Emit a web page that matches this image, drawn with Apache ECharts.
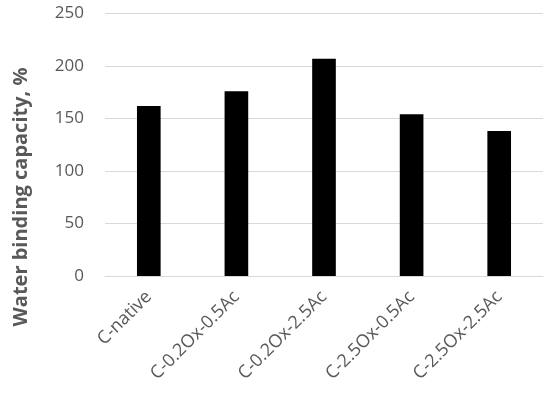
<!DOCTYPE html>
<html>
<head>
<meta charset="utf-8">
<script src="https://cdn.jsdelivr.net/npm/echarts@6/dist/echarts.min.js"></script>
<style>html,body{margin:0;padding:0;background:#fff;}#c{width:550px;height:394px;}</style>
</head>
<body>
<div id="c"></div>
<script>
const categories = ["C-native", "C-0.2Ox-0.5Ac", "C-0.2Ox-2.5Ac", "C-2.5Ox-0.5Ac", "C-2.5Ox-2.5Ac"];
const values = [162, 176, 207, 154, 138];
const yTicks = [0, 50, 100, 150, 200, 250];
const yTitle = "Water binding capacity, %";

const FONT = '"Open Sans", sans-serif';
const chart = echarts.init(document.getElementById('c'), null, {renderer: 'canvas'});
chart.setOption({
  animation: false,
  backgroundColor: '#ffffff',
  grid: {left: 105, right: 7, top: 13.5, bottom: 118, containLabel: false},
  xAxis: {
    type: 'category',
    data: categories,
    axisLine: {show: true, lineStyle: {color: '#d9d9d9', width: 1}},
    axisTick: {show: false},
    axisLabel: {rotate: 45, margin: 18, color: '#595959', fontSize: 18, fontFamily: FONT, interval: 0}
  },
  yAxis: {
    type: 'value',
    min: yTicks[0],
    max: yTicks[yTicks.length - 1],
    interval: 50,
    axisLine: {show: false},
    axisTick: {show: false},
    splitLine: {lineStyle: {color: '#d9d9d9', width: 1}},
    axisLabel: {margin: 21, color: '#595959', fontSize: 17, fontFamily: FONT}
  },
  graphic: [{
    type: 'text',
    x: 21,
    y: 197,
    rotation: Math.PI / 2,
    style: {
      text: yTitle,
      fill: '#595959',
      font: 'bold 20px ' + FONT,
      align: 'center',
      verticalAlign: 'middle'
    }
  }],
  series: [{
    type: 'bar',
    data: values,
    barWidth: '27%',
    itemStyle: {color: '#000000'}
  }]
});
</script>
</body>
</html>
